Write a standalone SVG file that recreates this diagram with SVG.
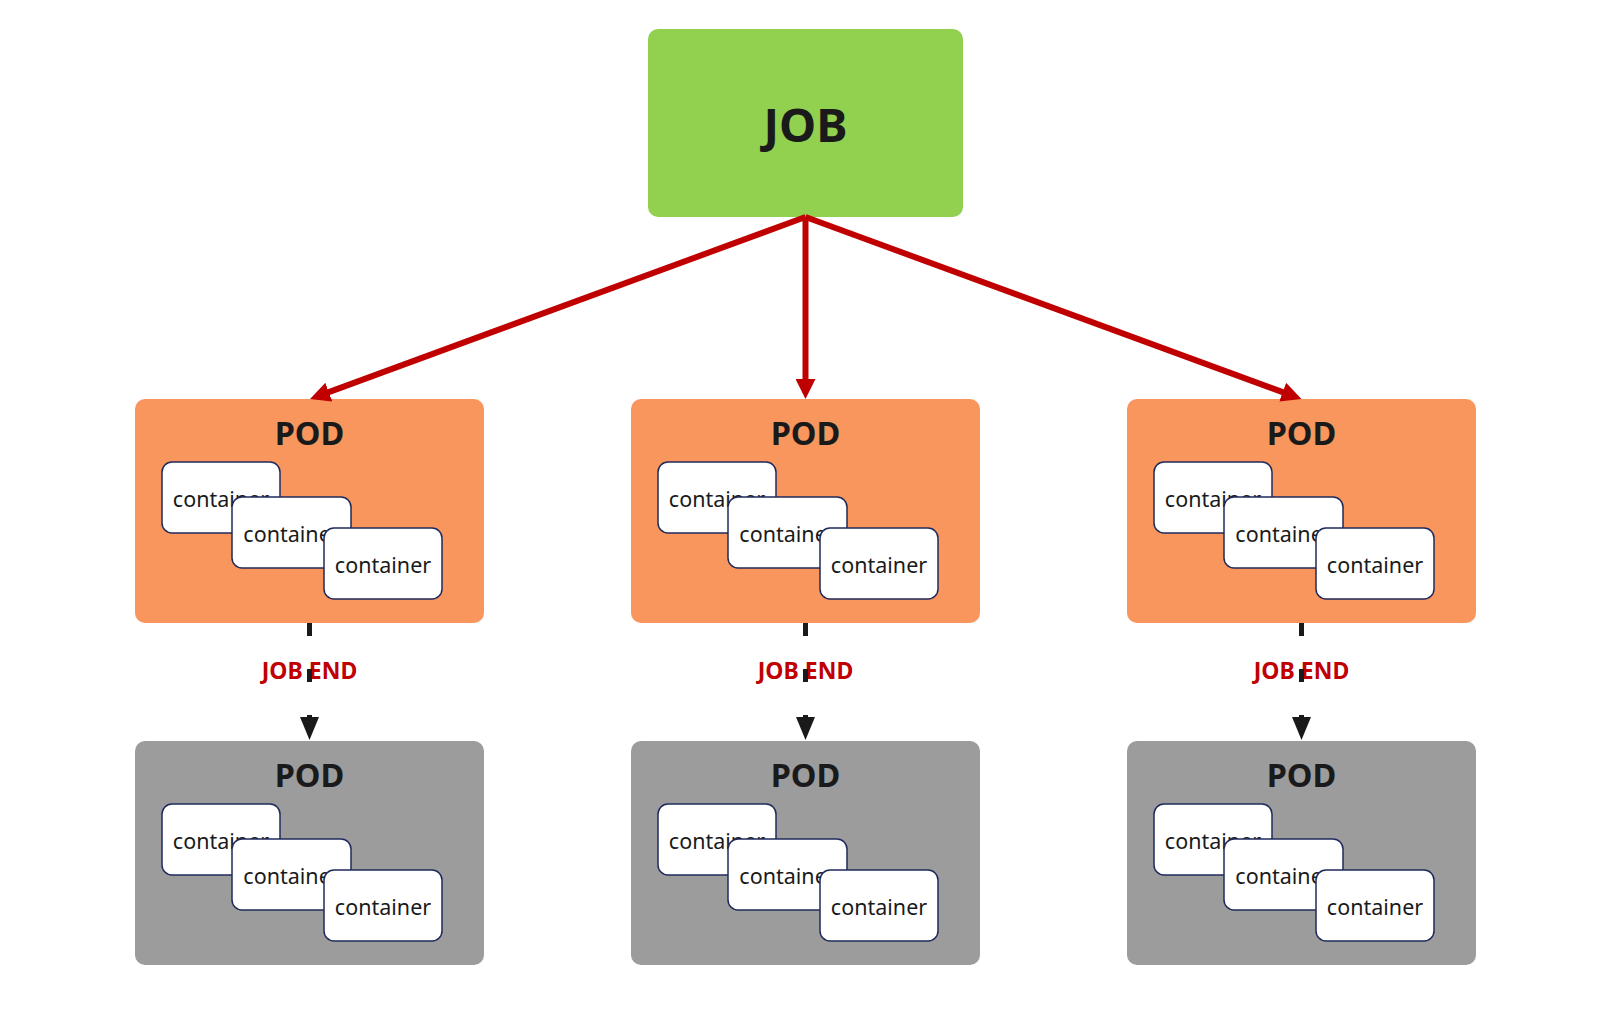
<svg xmlns="http://www.w3.org/2000/svg" width="1606" height="1019" viewBox="0 0 1606 1019">
  <style>
    .job { fill: #92D050; }
    .podA { fill: #F8965E; }
    .podB { fill: #9C9C9C; }
    .ctr { fill: #FFFFFF; stroke: #1F2A5C; stroke-width: 1.5; }
    .title { font-family: "Noto Sans", "Open Sans", sans-serif; font-weight: bold; fill: #1A1A1A; text-anchor: middle; }
    .ctext { font-family: "Noto Sans", "Open Sans", sans-serif; font-size: 21.5px; fill: #1A1A1A; text-anchor: middle; }
    .lbl { font-family: "Noto Sans", "Open Sans", sans-serif; font-weight: bold; font-size: 23px; fill: #C00000; text-anchor: middle; }
    .red { stroke: #C00000; stroke-width: 6; fill: none; marker-end: url(#redArrow); }
    .dash { stroke: #1A1A1A; stroke-width: 5; fill: none; stroke-dasharray: 13 33; marker-end: url(#blackArrow); }
  </style>
  <defs>
    <marker id="redArrow" markerUnits="userSpaceOnUse" markerWidth="20" markerHeight="20" refX="8" refY="10" orient="auto" viewBox="0 0 20 20">
      <path d="M0,0 L20,10 L0,20 z" fill="#C00000"/>
    </marker>
    <marker id="blackArrow" markerUnits="userSpaceOnUse" markerWidth="23" markerHeight="19" refX="11" refY="9.5" orient="auto" viewBox="0 0 23 19">
      <path d="M0,0 L23,9.5 L0,19 z" fill="#1A1A1A"/>
    </marker>
  </defs>

  <g id="job">
    <rect class="job" x="648" y="29" width="315" height="188" rx="10"/>
    <text class="title" x="805.5" y="142" font-size="47">JOB</text>
  </g>

  <g id="pod-top-1">
    <rect class="podA" x="135" y="399" width="349" height="224" rx="10"/>
    <text class="title" x="309.5" y="445" font-size="32.5">POD</text>
    <rect class="ctr" x="162" y="462" width="118" height="71" rx="10"/>
    <text class="ctext" x="221" y="507">container</text>
    <rect class="ctr" x="232" y="497" width="119" height="71" rx="10"/>
    <text class="ctext" x="291.5" y="542">container</text>
    <rect class="ctr" x="324" y="528" width="118" height="71" rx="10"/>
    <text class="ctext" x="383" y="573">container</text>
  </g>
  <g id="pod-top-2">
    <rect class="podA" x="631" y="399" width="349" height="224" rx="10"/>
    <text class="title" x="805.5" y="445" font-size="32.5">POD</text>
    <rect class="ctr" x="658" y="462" width="118" height="71" rx="10"/>
    <text class="ctext" x="717" y="507">container</text>
    <rect class="ctr" x="728" y="497" width="119" height="71" rx="10"/>
    <text class="ctext" x="787.5" y="542">container</text>
    <rect class="ctr" x="820" y="528" width="118" height="71" rx="10"/>
    <text class="ctext" x="879" y="573">container</text>
  </g>
  <g id="pod-top-3">
    <rect class="podA" x="1127" y="399" width="349" height="224" rx="10"/>
    <text class="title" x="1301.5" y="445" font-size="32.5">POD</text>
    <rect class="ctr" x="1154" y="462" width="118" height="71" rx="10"/>
    <text class="ctext" x="1213" y="507">container</text>
    <rect class="ctr" x="1224" y="497" width="119" height="71" rx="10"/>
    <text class="ctext" x="1283.5" y="542">container</text>
    <rect class="ctr" x="1316" y="528" width="118" height="71" rx="10"/>
    <text class="ctext" x="1375" y="573">container</text>
  </g>

  <g id="pod-bottom-1">
    <rect class="podB" x="135" y="741" width="349" height="224" rx="10"/>
    <text class="title" x="309.5" y="787" font-size="32.5">POD</text>
    <rect class="ctr" x="162" y="804" width="118" height="71" rx="10"/>
    <text class="ctext" x="221" y="849">container</text>
    <rect class="ctr" x="232" y="839" width="119" height="71" rx="10"/>
    <text class="ctext" x="291.5" y="884">container</text>
    <rect class="ctr" x="324" y="870" width="118" height="71" rx="10"/>
    <text class="ctext" x="383" y="915">container</text>
  </g>
  <g id="pod-bottom-2">
    <rect class="podB" x="631" y="741" width="349" height="224" rx="10"/>
    <text class="title" x="805.5" y="787" font-size="32.5">POD</text>
    <rect class="ctr" x="658" y="804" width="118" height="71" rx="10"/>
    <text class="ctext" x="717" y="849">container</text>
    <rect class="ctr" x="728" y="839" width="119" height="71" rx="10"/>
    <text class="ctext" x="787.5" y="884">container</text>
    <rect class="ctr" x="820" y="870" width="118" height="71" rx="10"/>
    <text class="ctext" x="879" y="915">container</text>
  </g>
  <g id="pod-bottom-3">
    <rect class="podB" x="1127" y="741" width="349" height="224" rx="10"/>
    <text class="title" x="1301.5" y="787" font-size="32.5">POD</text>
    <rect class="ctr" x="1154" y="804" width="118" height="71" rx="10"/>
    <text class="ctext" x="1213" y="849">container</text>
    <rect class="ctr" x="1224" y="839" width="119" height="71" rx="10"/>
    <text class="ctext" x="1283.5" y="884">container</text>
    <rect class="ctr" x="1316" y="870" width="118" height="71" rx="10"/>
    <text class="ctext" x="1375" y="915">container</text>
  </g>

  <g id="connectors">
    <line class="red" x1="805.5" y1="217" x2="321.3" y2="394.9"/>
    <line class="red" x1="805.5" y1="217" x2="805.5" y2="387"/>
    <line class="red" x1="805.5" y1="217" x2="1290.2" y2="394.9"/>
    <text class="lbl" x="309.5" y="679">JOB END</text>
    <text class="lbl" x="805.5" y="679">JOB END</text>
    <text class="lbl" x="1301.5" y="679">JOB END</text>
    <line class="dash" x1="309.5" y1="623" x2="309.5" y2="728"/>
    <line class="dash" x1="805.5" y1="623" x2="805.5" y2="728"/>
    <line class="dash" x1="1301.5" y1="623" x2="1301.5" y2="728"/>
  </g>
</svg>
